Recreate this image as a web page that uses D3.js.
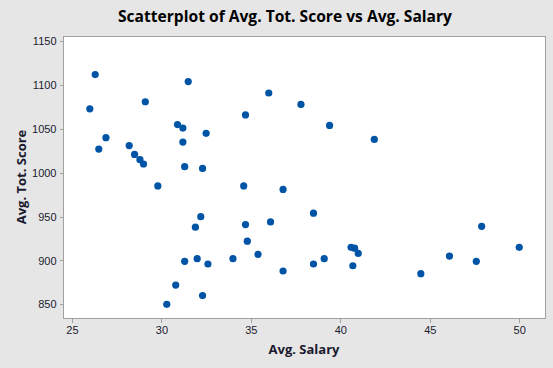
<!DOCTYPE html>
<html>
<head>
<meta charset="UTF-8">
<title>Scatterplot</title>
<script src="https://d3js.org/d3.v7.min.js"></script>
<style>
  body { margin: 0; background: #e6e6e6; }
  svg { display: block; font-family: "Open Sans", sans-serif; }
  .axis path, .axis line { stroke: #a0a0a0; shape-rendering: crispEdges; }
  .axis text { fill: #1a1a2e; font-size: 11px; }
</style>
</head>
<body>
<svg></svg>
<script>
// Avg. salary (x) and avg. total score (y), one pair per point
var salary = [26.3, 31.5, 29.1, 26.0, 30.9, 31.2, 32.5, 26.9, 31.2, 28.2,
              26.5, 28.5, 28.8, 29.0, 31.3, 32.3, 29.8, 32.2, 31.9, 31.3,
              32.0, 32.6, 30.8, 32.3, 30.3, 36.0, 37.8, 34.7, 39.4, 41.9,
              34.6, 36.8, 38.5, 34.7, 36.1, 34.8, 35.4, 34.0, 40.6, 40.8,
              41.0, 39.1, 38.5, 40.7, 36.8, 47.9, 50.0, 46.1, 47.6, 44.5];
var score  = [1112, 1104, 1081, 1073, 1055, 1051, 1045, 1040, 1035, 1031,
              1027, 1021, 1015, 1010, 1007, 1005,  985,  950,  938,  899,
               902,  896,  872,  860,  850, 1091, 1078, 1066, 1054, 1038,
               985,  981,  954,  941,  944,  922,  907,  902,  915,  914,
               908,  902,  896,  894,  888,  939,  915,  905,  899,  885];
var xTicks = [25, 30, 35, 40, 45, 50];
var yTicks = [850, 900, 950, 1000, 1050, 1100, 1150];

var W = 553, H = 368;
var plot = {left: 63, top: 36, right: 545, bottom: 318};

var svg = d3.select("svg").attr("width", W).attr("height", H);

var x = d3.scaleLinear().domain([24.5, 51.44]).range([plot.left, plot.right]);
var y = d3.scaleLinear().domain([834.4, 1156]).range([plot.bottom, plot.top]);

// plot area
svg.append("rect")
  .attr("x", plot.left + 0.5).attr("y", plot.top + 0.5)
  .attr("width", plot.right - plot.left).attr("height", plot.bottom - plot.top)
  .attr("fill", "#ffffff").attr("stroke", "#a0a0a0");

// axes
svg.append("g").attr("class", "axis")
  .attr("transform", "translate(0," + (plot.bottom + 0.5) + ")")
  .call(d3.axisBottom(x).tickValues(xTicks).tickFormat(d3.format("d"))
    .tickSizeOuter(0).tickSize(4).tickPadding(4))
  .call(function(g) { g.select(".domain").remove(); });

svg.append("g").attr("class", "axis")
  .attr("transform", "translate(" + (plot.left + 0.5) + ",0)")
  .call(d3.axisLeft(y).tickValues(yTicks).tickFormat(d3.format("d"))
    .tickSizeOuter(0).tickSize(4).tickPadding(3))
  .call(function(g) { g.select(".domain").remove(); });

// points
var pts = salary.map(function(d, i) { return {x: d, y: score[i]}; });
svg.append("g").selectAll("circle")
  .data(pts).enter().append("circle")
  .attr("cx", function(d) { return x(d.x); })
  .attr("cy", function(d) { return y(d.y); })
  .attr("r", 3.6)
  .attr("fill", "#0054a6");

// titles
svg.append("text")
  .attr("x", 285).attr("y", 22)
  .attr("text-anchor", "middle")
  .attr("font-size", "15.6px").attr("font-weight", "bold")
  .text("Scatterplot of Avg. Tot. Score vs Avg. Salary");

svg.append("text")
  .attr("x", 304).attr("y", 354)
  .attr("text-anchor", "middle")
  .attr("font-size", "13px").attr("font-weight", "bold")
  .attr("fill", "#1a1a2e")
  .text("Avg. Salary");

svg.append("text")
  .attr("transform", "translate(26,177) rotate(-90)")
  .attr("text-anchor", "middle")
  .attr("font-size", "13px").attr("font-weight", "bold")
  .attr("fill", "#1a1a2e")
  .text("Avg. Tot. Score");
</script>
</body>
</html>
